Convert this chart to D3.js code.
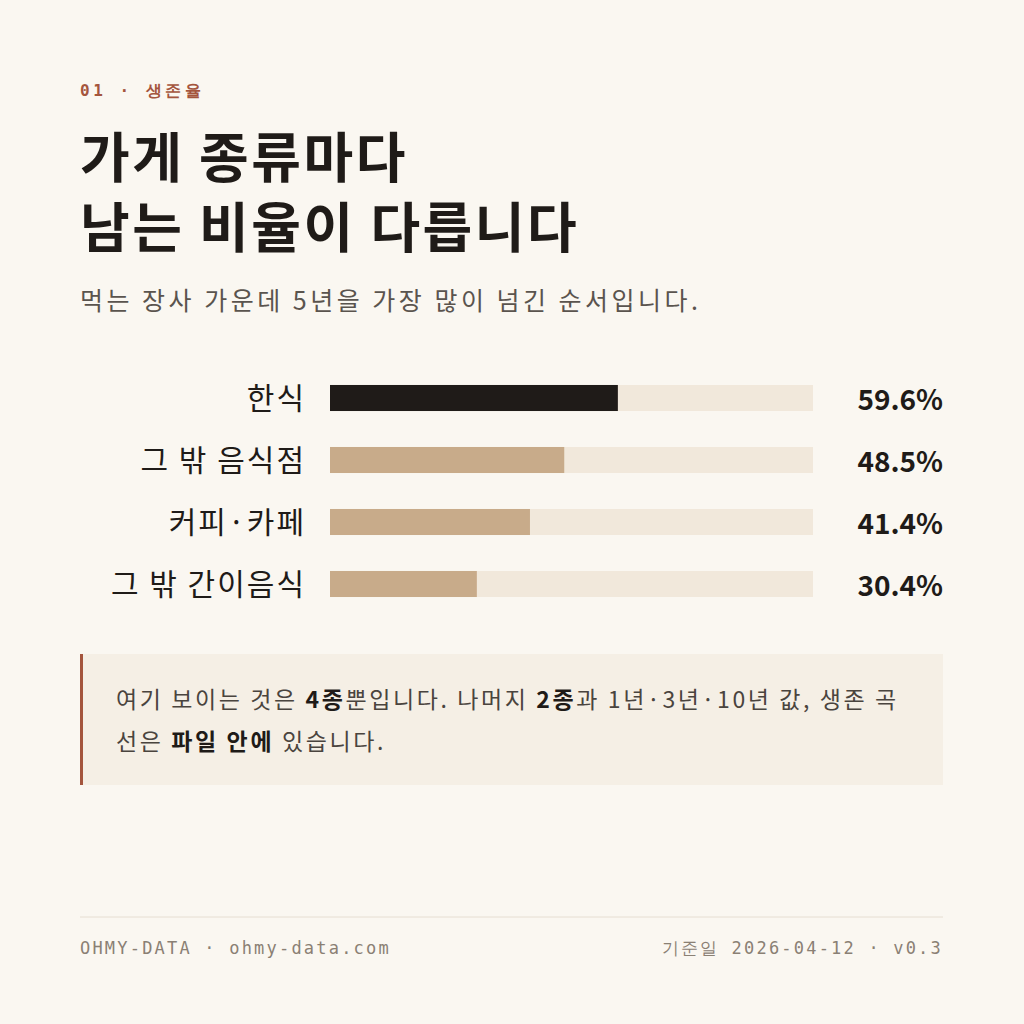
<!DOCTYPE html><html><head><meta charset="utf-8">
<script src="https://cdn.jsdelivr.net/npm/d3@7"></script>
<style>body{margin:0;background:#faf7f1}</style></head><body>
<script>
const categories=["한식","그 밖 음식점","커피·카페","그 밖 간이음식"];
const values=[59.6,48.5,41.4,30.4];
const valueLabels=["59.6%","48.5%","41.4%","30.4%"];
const svg=d3.select("body").append("svg").attr("width",1024).attr("height",1024);
svg.append("rect").attr("width",1024).attr("height",1024).attr("fill","#faf7f1");
const sans="'Noto Sans CJK KR','Noto Sans',sans-serif", mono="'DejaVu Sans Mono','Liberation Mono',monospace";
svg.append("text").attr("x",80).attr("y",96).attr("font-family",mono).attr("font-size",16).attr("font-weight","bold").attr("fill","#a4553d").attr("letter-spacing",3.5).text("01 · 생존율");
["가게 종류마다","남는 비율이 다릅니다"].forEach((t,i)=>svg.append("text").attr("x",80).attr("y",178+i*70).attr("font-family",sans).attr("font-size",54).attr("font-weight","bold").attr("letter-spacing",2.5).attr("fill","#1f1b18").text(t));
svg.append("text").attr("x",80).attr("y",310).attr("font-family",sans).attr("font-size",25).attr("letter-spacing",3.5).attr("fill","#5a544e").text("먹는 장사 가운데 5년을 가장 많이 넘긴 순서입니다.");
const x=d3.scaleLinear().domain([0,100]).range([330,813]);
const y=d3.scaleBand().domain(categories).range([367,615]).paddingInner(0.58).paddingOuter(0.29);
const g=svg.append("g");
categories.forEach((c,i)=>{
 const yy=y(c),h=y.bandwidth();
 g.append("rect").attr("x",x(0)).attr("y",yy).attr("width",x(100)-x(0)).attr("height",h).attr("fill","#f1e8db");
 g.append("rect").attr("x",x(0)).attr("y",yy).attr("width",x(values[i])-x(0)).attr("height",h).attr("fill",i==0?"#1f1b18":"#c8ab8a");
 g.append("text").attr("x",306).attr("y",yy+h/2).attr("dy","0.35em").attr("text-anchor","end").attr("font-family",sans).attr("font-size",30).attr("letter-spacing",2).attr("fill","#1f1b18").text(c);
 g.append("text").attr("x",943).attr("y",yy+h/2+2).attr("dy","0.35em").attr("text-anchor","end").attr("font-family",sans).attr("font-size",28).attr("font-weight","bold").attr("fill","#1f1b18").text(valueLabels[i]);
});
svg.append("rect").attr("x",80).attr("y",654).attr("width",863).attr("height",131).attr("fill","#f5efe5");
svg.append("rect").attr("x",80).attr("y",654).attr("width",3).attr("height",131).attr("fill","#a4553d");
const n1=svg.append("text").attr("x",116).attr("y",708).attr("font-family",sans).attr("font-size",23).attr("letter-spacing",2.6).attr("fill","#4a443e");
[["여기 보이는 것은 ",0],["4종",1],["뿐입니다. 나머지 ",0],["2종",1],["과 1년·3년·10년 값, 생존 곡",0]].forEach(([t,b])=>n1.append("tspan").attr("font-weight",b?"bold":"normal").attr("fill",b?"#1f1b18":"#4a443e").text(t));
const n2=svg.append("text").attr("x",116).attr("y",750).attr("font-family",sans).attr("font-size",23).attr("letter-spacing",2.6).attr("fill","#4a443e");
[["선은 ",0],["파일 안에",1],[" 있습니다.",0]].forEach(([t,b])=>n2.append("tspan").attr("font-weight",b?"bold":"normal").attr("fill",b?"#1f1b18":"#4a443e").text(t));
svg.append("line").attr("x1",80).attr("x2",943).attr("y1",917).attr("y2",917).attr("stroke","#e6ded2");
svg.append("text").attr("x",80).attr("y",954).attr("font-family",mono).attr("font-size",17).attr("letter-spacing",2.2).attr("fill","#8a8074").text("OHMY-DATA · ohmy-data.com");
svg.append("text").attr("x",943).attr("y",954).attr("text-anchor","end").attr("font-family",mono).attr("font-size",17).attr("letter-spacing",2.2).attr("fill","#8a8074").text("기준일 2026-04-12 · v0.3");
</script></body></html>
